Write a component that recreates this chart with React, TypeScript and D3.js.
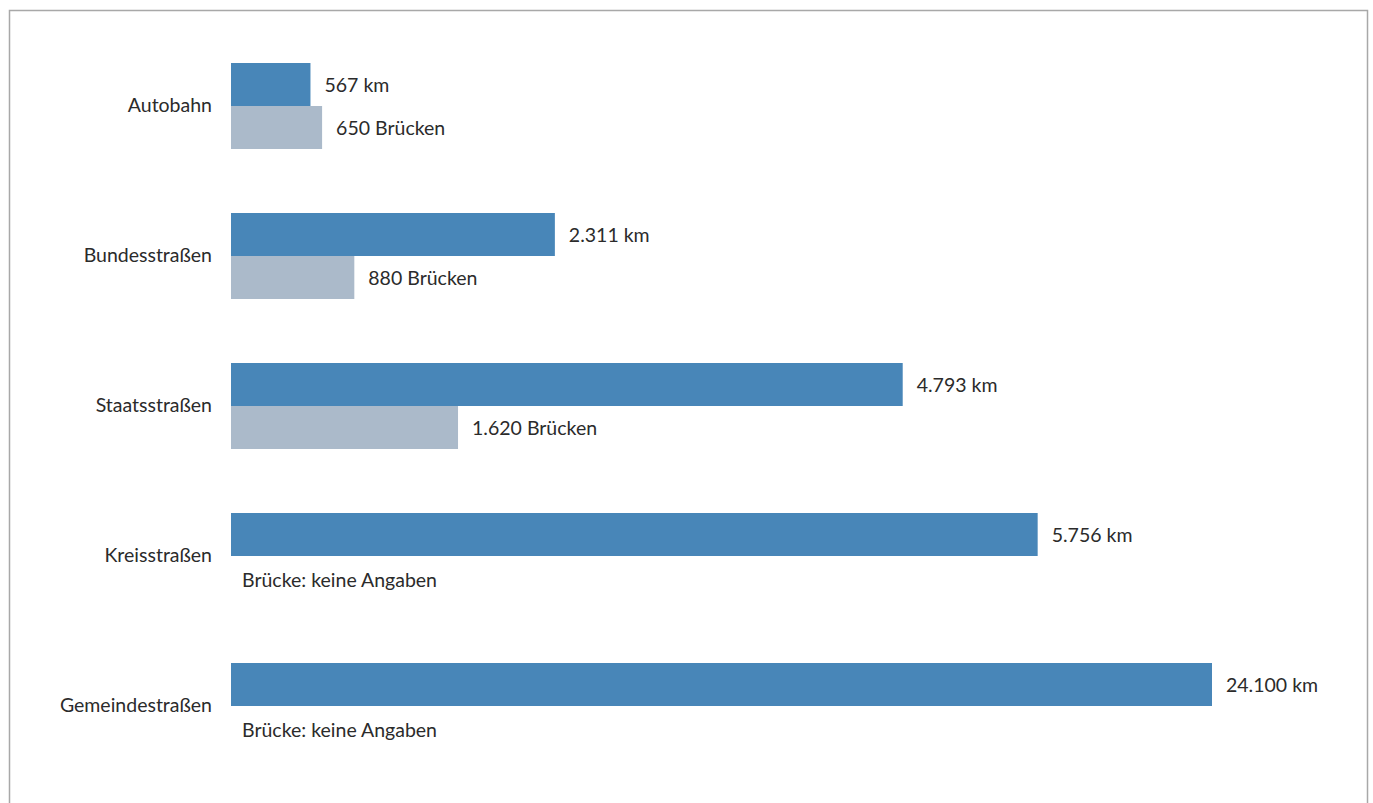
import React from "react";
import * as d3 from "d3";

const categories = ["Autobahn", "Bundesstraßen", "Staatsstraßen", "Kreisstraßen", "Gemeindestraßen"];
const kmValues = [567, 2311, 4793, 5756, 24100];
const bridgeValues: (number | null)[] = [650, 880, 1620, null, null];
const seriesKeys = ["km", "bruecken"];
const seriesUnits = ["km", "Brücken"];
const noDataLabel = "Brücke: keine Angaben";

const W = 1373;
const H = 803;
const FONT = "Lato, 'Open Sans', sans-serif";
const FS = 19.5;
const TEXT = "#2b2b2b";
const COLORS = ["#4886b8", "#abbaca"];

const de = d3.formatLocale({ decimal: ",", thousands: ".", grouping: [3], currency: ["", " €"] });
const fmt = de.format(",d");

export default function App() {
  const x = d3.scaleLinear().domain([0, 7000]).range([231, 1212]).clamp(true);
  const y = d3
    .scaleBand<string>()
    .domain(categories)
    .range([63, 749])
    .paddingInner(64 / 150)
    .paddingOuter(0);
  const sub = d3.scaleBand<string>().domain(seriesKeys).range([0, y.bandwidth()]);

  return (
    <svg width={W} height={H} style={{ position: "absolute", left: 0, top: 0, background: "#fff" }}>
      <rect x={9.5} y={10.5} width={1358} height={820} fill="#fff" stroke="#a8a8a8" strokeWidth={1.5} />
      {categories.map((c, i) => {
        const y0 = y(c) as number;
        const bw = sub.bandwidth();
        const vals = [kmValues[i], bridgeValues[i]];
        return (
          <g key={c}>
            <text
              x={212}
              y={y0 + y.bandwidth() / 2 - 2}
              textAnchor="end"
              dominantBaseline="central"
              fontFamily={FONT}
              fontSize={FS}
              fill={TEXT}
            >
              {c}
            </text>
            {vals.map((v, j) => {
              const yy = y0 + (sub(seriesKeys[j]) as number);
              if (v == null) {
                return (
                  <text
                    key={j}
                    x={x(0) + 11}
                    y={yy + bw / 2 + 2}
                    dominantBaseline="central"
                    fontFamily={FONT}
                    fontSize={FS}
                    fill={TEXT}
                  >
                    {noDataLabel}
                  </text>
                );
              }
              return (
                <g key={j}>
                  <rect x={x(0)} y={yy} width={x(v) - x(0)} height={bw} fill={COLORS[j]} />
                  <text
                    x={x(v) + 14}
                    y={yy + bw / 2}
                    dominantBaseline="central"
                    fontFamily={FONT}
                    fontSize={FS}
                    fill={TEXT}
                  >
                    {fmt(v)} {seriesUnits[j]}
                  </text>
                </g>
              );
            })}
          </g>
        );
      })}
    </svg>
  );
}
